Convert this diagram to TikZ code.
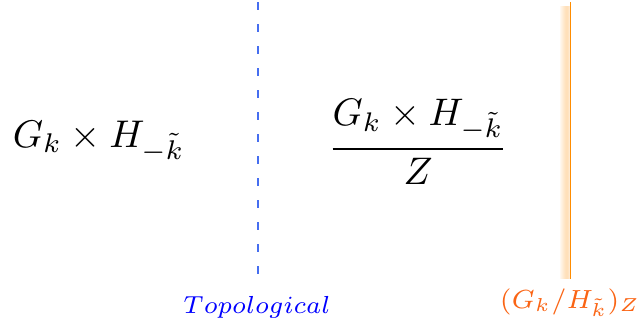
\documentclass[tikz,border=0pt]{standalone}
\usepackage{amsmath}
\usepackage{graphicx}
\definecolor{dashblue}{RGB}{70,110,240}
\definecolor{lineorange}{RGB}{255,140,0}
\definecolor{textorange}{RGB}{250,100,20}
\tikzset{
  formula/.style={inner sep=0pt, font=\normalsize},
  lbl/.style={inner sep=0pt, font=\scriptsize},
  divider/.style={dashblue, line width=0.5pt, dash pattern=on 2pt off 3.5pt},
  wall/.style={lineorange, line width=0.42pt},
}
\begin{document}
\begin{tikzpicture}[x=0.25pt,y=-0.25pt]
\useasboundingbox (0,0) rectangle (638,333);
\node[formula, anchor=base west] (left) at (12,147) {\scalebox{0.965}{$G_k \times H_{-\tilde{k}}$}};
\node[formula, anchor=center] (frac) at (418,142) {\scalebox{0.96}{$\displaystyle\genfrac{}{}{0.6pt}{0}{G_k \times H_{-\tilde{k}}}{Z}$}};
\coordinate (dtop) at (258,2);
\coordinate (dbot) at (258,280);
\draw[divider] (dtop) -- (dbot);
\node[lbl, anchor=base, text=blue] (topo) at (257,313) {\scalebox{0.88}{$Topological$}};
\coordinate (otop) at (570.5,2);
\coordinate (obot) at (570.5,279);
\foreach \dx/\op in {-10/0.06,-9/0.1,-8/0.14,-7/0.18,-6/0.22,-5/0.25,-4/0.27,-3/0.27,-2/0.24,-1/0.18}
  \draw[lineorange, line width=0.3pt, opacity=\op] ([xshift=\dx*0.25pt,yshift=-1pt]otop) -- ([xshift=\dx*0.25pt]obot);
\draw[wall] (otop) -- (obot);
\node[lbl, anchor=base, text=textorange] (quot) at (570,308) {\scalebox{0.937}{$(G_k/H_{\tilde{k}})_Z$}};
\end{tikzpicture}
\end{document}
